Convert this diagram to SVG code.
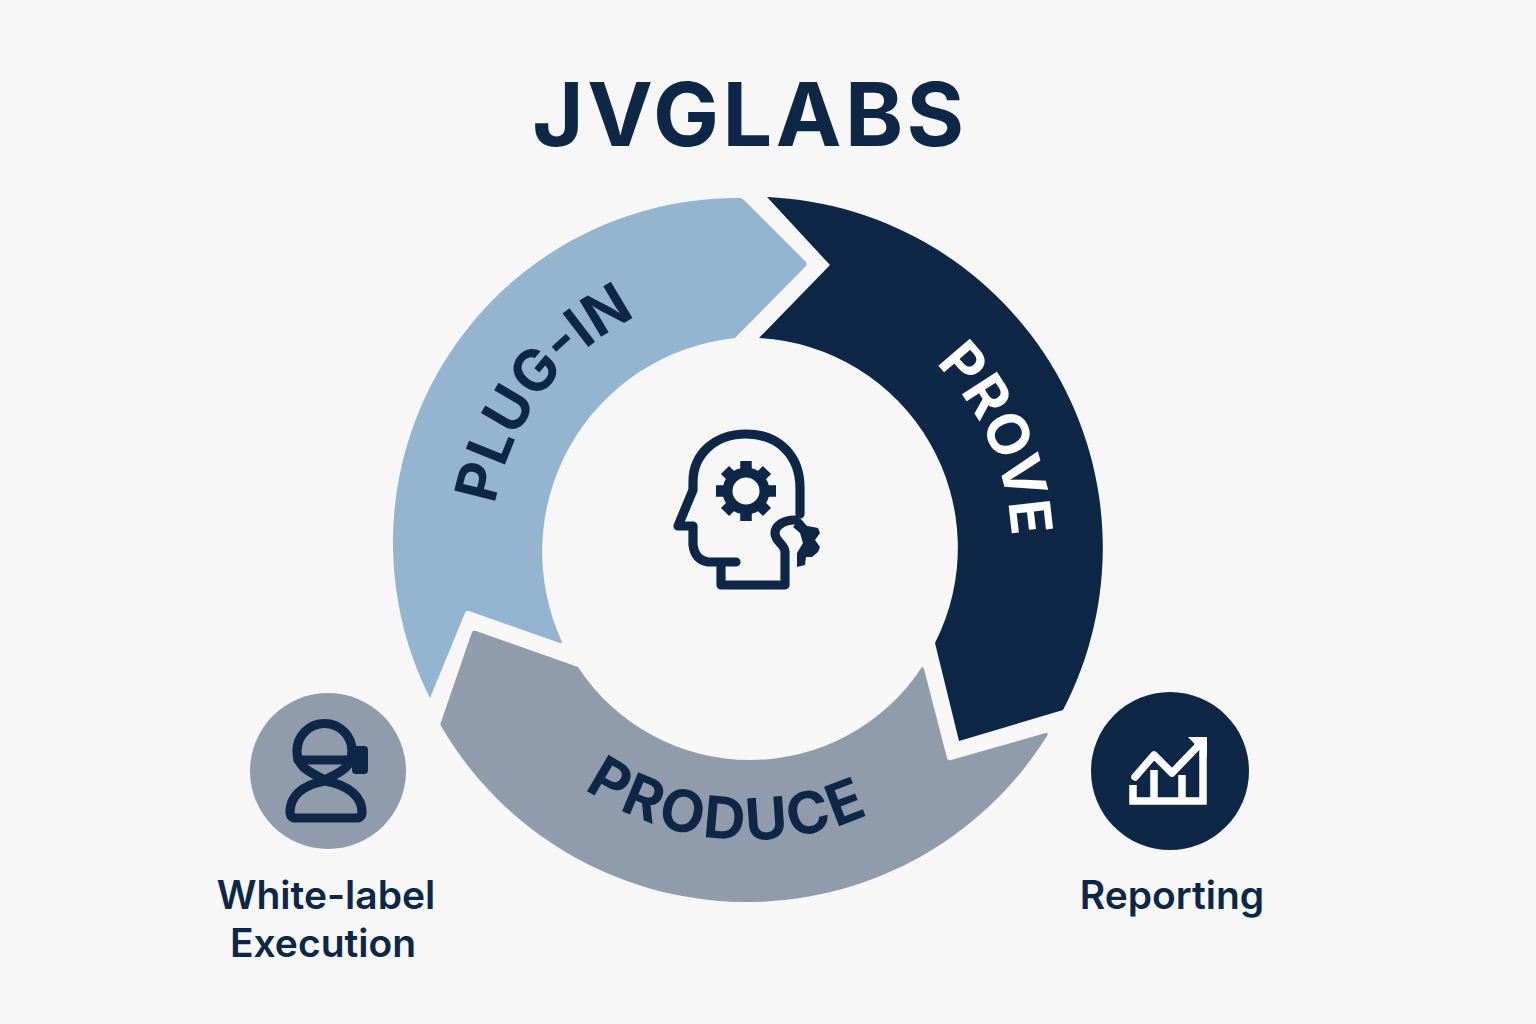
<svg xmlns="http://www.w3.org/2000/svg" width="1536" height="1024" viewBox="0 0 1536 1024">
<style>
text{font-family:Inter,"Liberation Sans",sans-serif;}
.title{font-size:88px;font-weight:700;fill:#0e2747;letter-spacing:3.5px;}
.seg{font-weight:700;}
.lab{font-size:39px;font-weight:600;fill:#0e2747;}
.ln{fill:none;stroke:#0e2747;stroke-width:9.2;stroke-linecap:round;stroke-linejoin:round;}
.wl{fill:none;stroke:#fff;stroke-width:7.5;stroke-linejoin:miter;}
</style>
<defs>
<path id="p1" d="M511.5 649.8A258 258 0 0 1 780.4 292.9"/>
<path id="p2" d="M777.4 287.5A263 263 0 0 1 961.2 704.3"/>
<path id="p3" d="M485.5 672.4A291 291 0 0 0 987.6 715.5"/>
</defs>
<rect width="1536" height="1024" fill="#f7f7f7"/>
<text class="title" x="750" y="146" text-anchor="middle">JVGLABS</text>
<g id="connectors">
<path id="seg-plug" d="M430 698A344.6 344.6 0 0 1 736 198Q741 197 744 200L806 262Q807 264 806 266L735 338A215 215 0 0 0 562 642Q562 644 560 643L469 611Q466 610 465 613Z" fill="#94b4cf"/>
<path id="seg-prove" d="M767 197A351 351 0 0 1 1063 710L959 741L935 643A210 210 0 0 0 759 338L830 265Z" fill="#0e2747"/>
<path id="seg-produce" d="M1046 733Q1049 733 1047 736A354 354 0 0 1 441 726Q440 724 441 722L472 632Q473 630 476 631L578 667A205.5 205.5 0 0 0 922 667Q923 667 924 669L947 758Q948 761 951 760Z" fill="#909cab"/>
</g>
<text class="seg" fill="#0e2747" text-anchor="middle" font-size="58"><textPath href="#p1" startOffset="50%">PLUG-IN</textPath></text>
<text class="seg" fill="#fff" text-anchor="middle" font-size="57"><textPath href="#p2" startOffset="50%">PROVE</textPath></text>
<text class="seg" fill="#0e2747" text-anchor="middle" font-size="58" letter-spacing="2.5"><textPath href="#p3" startOffset="50%">PRODUCE</textPath></text>
<g id="node-center">
<path class="ln" d="M736 562H708Q695 560 693 545V526H678L693 490V482C693 454 715 434 746 434C778 434 800 455 800 488V514"/>
<path class="ln" d="M721 567V585H785V552C785 544 775 542 775 533C775 525 785 520 795 520"/>
<g stroke="#0e2747" stroke-width="11.5">
<path d="M746 461V521M716 491H776M725 470L767 512M725 512L767 470"/>
</g>
<circle cx="746" cy="491" r="23.5" fill="#0e2747"/>
<circle cx="746" cy="491" r="13.5" fill="#f7f7f7"/>
<path d="M800 518L807 526L813 527L818 528L820 533L815 540L820 547L818 552L812 557L806 557L805 565L797 567L797 553L803 543L800 533L793 527Z" fill="#0e2747"/>
</g>
<g id="node-whitelabel">
<circle cx="328" cy="771" r="78" fill="#909cab"/>
<path class="ln" d="M325 780C310 772 297 768 297 751A27.5 27.5 0 0 1 352 751C352 768 340 772 325 780Z"/>
<path class="ln" d="M325 781C300 785 290 798 290 812Q290 818 296 818H356Q362 818 362 812C362 798 350 785 325 781Z"/>
<path class="ln" d="M298 760H352"/>
<rect x="352" y="746" width="16" height="28" rx="4" fill="#0e2747"/>
<text class="lab" x="326" y="909" text-anchor="middle">White-label</text>
<text class="lab" x="323" y="957" text-anchor="middle">Execution</text>
</g>
<g id="node-reporting">
<circle cx="1170" cy="771" r="79" fill="#0e2747"/>
<path class="wl" d="M1133 785V801H1203V745"/>
<path class="wl" stroke-linecap="round" style="stroke-linejoin:round" d="M1135 777L1154 755L1172 773L1197 747"/>
<path class="wl" d="M1154 770V798M1182 775V798"/>
<path d="M1188 737H1207V757Z" fill="#fff"/>
<text class="lab" x="1172" y="909" text-anchor="middle">Reporting</text>
</g>
</svg>
